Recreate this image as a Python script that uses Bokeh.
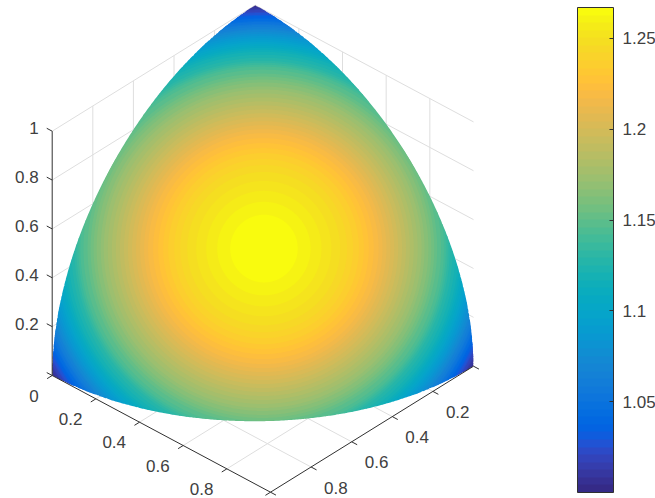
import numpy as np
from bokeh.core.properties import value
from bokeh.embed import file_html
from bokeh.models import ColorBar, ColumnDataSource, FixedTicker, LinearColorMapper, Range1d
from bokeh.plotting import figure
from bokeh.resources import INLINE

# Colour value of each band, and how far (on the unit sphere, seen along the
# view axis) the band reaches from the octant's centre.
band_value = [1.002, 1.006, 1.010, 1.015, 1.019, 1.023, 1.027, 1.031, 1.035, 1.040,
              1.044, 1.048, 1.052, 1.056, 1.060, 1.065, 1.069, 1.073, 1.077, 1.081,
              1.085, 1.090, 1.094, 1.098, 1.102, 1.106, 1.110, 1.115, 1.119, 1.123,
              1.127, 1.131, 1.135, 1.140, 1.144, 1.148, 1.152, 1.156, 1.160, 1.165,
              1.169, 1.173, 1.177, 1.181, 1.185, 1.190, 1.194, 1.198, 1.202, 1.206,
              1.210, 1.215, 1.219, 1.223, 1.227, 1.231, 1.235, 1.240, 1.244, 1.248,
              1.252, 1.256, 1.260, 1.265]
band_reach_px = [300, 244, 243, 241, 240, 238, 237, 235, 234, 232,
                 231, 229, 228, 226, 225, 223, 221, 220, 218, 216,
                 214, 212, 210, 208, 206, 204, 202, 200, 198, 195,
                 192, 189, 187, 185, 183, 180, 176, 173, 170, 167,
                 163, 160, 156, 152, 148, 144, 140, 136, 132, 128,
                 124, 120, 116, 111, 106, 101, 96, 90, 84, 77,
                 68, 58, 47, 34]

ab_ticks = [0, 0.2, 0.4, 0.6, 0.8, 1]
z_ticks = [0, 0.2, 0.4, 0.6, 0.8, 1]
a_labels = ["0", "0.2", "0.4", "0.6", "0.8"]
b_labels = ["0.2", "0.4", "0.6", "0.8"]
z_labels = ["0.2", "0.4", "0.6", "0.8", "1"]
cbar_ticks = [1.05, 1.1, 1.15, 1.2, 1.25]
clim = (1.0, 1.267)

parula = """0.2081 0.1663 0.5292;0.2116 0.1898 0.5777;0.2123 0.2138 0.6270;0.2081 0.2386 0.6771;
0.1959 0.2645 0.7279;0.1707 0.2919 0.7792;0.1253 0.3242 0.8303;0.0591 0.3598 0.8683;
0.0117 0.3875 0.8820;0.0060 0.4086 0.8828;0.0165 0.4266 0.8786;0.0329 0.4430 0.8720;
0.0498 0.4586 0.8641;0.0629 0.4737 0.8554;0.0723 0.4887 0.8467;0.0779 0.5040 0.8384;
0.0793 0.5200 0.8312;0.0749 0.5375 0.8263;0.0641 0.5570 0.8240;0.0488 0.5772 0.8228;
0.0343 0.5966 0.8199;0.0265 0.6137 0.8135;0.0239 0.6287 0.8038;0.0231 0.6418 0.7913;
0.0228 0.6535 0.7768;0.0267 0.6642 0.7607;0.0384 0.6743 0.7436;0.0590 0.6838 0.7254;
0.0843 0.6928 0.7062;0.1133 0.7015 0.6859;0.1453 0.7098 0.6646;0.1801 0.7177 0.6424;
0.2178 0.7250 0.6193;0.2586 0.7317 0.5954;0.3022 0.7376 0.5712;0.3482 0.7424 0.5473;
0.3953 0.7459 0.5244;0.4420 0.7481 0.5033;0.4871 0.7491 0.4840;0.5300 0.7491 0.4661;
0.5709 0.7485 0.4494;0.6099 0.7473 0.4337;0.6473 0.7456 0.4188;0.6834 0.7435 0.4044;
0.7184 0.7411 0.3905;0.7525 0.7384 0.3768;0.7858 0.7356 0.3633;0.8185 0.7327 0.3498;
0.8507 0.7299 0.3360;0.8824 0.7274 0.3217;0.9139 0.7258 0.3063;0.9450 0.7261 0.2886;
0.9739 0.7314 0.2666;0.9938 0.7455 0.2403;0.9990 0.7653 0.2164;0.9955 0.7861 0.1967;
0.9880 0.8066 0.1794;0.9789 0.8271 0.1633;0.9697 0.8481 0.1475;0.9626 0.8705 0.1309;
0.9589 0.8949 0.1132;0.9598 0.9218 0.0948;0.9661 0.9514 0.0755;0.9763 0.9831 0.0538"""
palette = ["#%02x%02x%02x" % tuple(int(round(float(c) * 255)) for c in row.split())
           for row in parula.replace("\n", "").split(";")]

W, H = 655, 498
ORIGIN = np.array([254.7, 249.0])
E_A = np.array([218.3, 116.7])
E_B = np.array([-203.0, 126.0])
E_Z = np.array([0.0, -244.3])
SPHERE_SCALE = 300.0
EDGE_INSET = 0.006  # hidden bands stop just short of the rim, so their colour cannot fringe it
TEXT = "#404040"
AXIS = "#303030"
GRID = "#dedede"
FONT = "Liberation Sans"
FS = "17px"


def project(a, b, z):
    a, b, z = np.asarray(a, float), np.asarray(b, float), np.asarray(z, float)
    return (ORIGIN[0] + a * E_A[0] + b * E_B[0] + z * E_Z[0],
            ORIGIN[1] + a * E_A[1] + b * E_B[1] + z * E_Z[1])


def reach_angle(reach_px):
    return np.arcsin(reach_px / SPHERE_SCALE) if reach_px < SPHERE_SCALE else np.pi / 2


def band_outline(reach_px, next_reach_px):
    """Cap round the octant's centre, cut to the octant (which is star-shaped from it)."""
    d = np.ones(3) / np.sqrt(3)
    u = np.array([-1, -1, 2]) / np.sqrt(6)
    v = np.cross(d, u)
    phi = np.radians(np.arange(0, 360, 0.5))
    w = np.outer(np.cos(phi), u) + np.outer(np.sin(phi), v)
    with np.errstate(divide="ignore", invalid="ignore"):
        t = np.where(w < -1e-12, -d / w, np.inf)
    edge = np.arctan(t.min(axis=1))
    # Where the next band also reaches the rim, this one is hidden there.
    limit = np.where(reach_angle(next_reach_px) >= edge, edge - EDGE_INSET, edge)
    alpha = np.minimum(reach_angle(reach_px), limit)
    pts = np.outer(np.cos(alpha), d) + (np.sin(alpha)[:, None]) * w
    return project(np.clip(pts[:, 0], 0, 1), np.clip(pts[:, 1], 0, 1), np.clip(pts[:, 2], 0, 1))


p = figure(width=W, height=H, output_backend="svg", toolbar_location=None,
           x_range=Range1d(0, W), y_range=Range1d(H, 0),
           x_axis_location=None, y_axis_location=None,
           min_border=0, outline_line_color=None)
p.grid.visible = False

# Grid on the floor and the two back walls
gx0, gy0, gx1, gy1 = [], [], [], []


def add_seg(s, e):
    x0, y0 = project(*s)
    x1, y1 = project(*e)
    gx0.append(float(x0)); gy0.append(float(y0)); gx1.append(float(x1)); gy1.append(float(y1))


for t in ab_ticks[:-1]:
    add_seg((t, 0, 0), (t, 1, 0))
    add_seg((0, t, 0), (1, t, 0))
    add_seg((t, 0, 0), (t, 0, 1))
    add_seg((0, t, 0), (0, t, 1))
for t in z_ticks:
    add_seg((0, 0, t), (1, 0, t))
    add_seg((0, 0, t), (0, 1, t))
p.segment(gx0, gy0, gx1, gy1, line_color=GRID, line_width=1)

# Surface
mapper = LinearColorMapper(palette=palette, low=clim[0], high=clim[1])
xs, ys = [], []
for reach, next_reach in zip(band_reach_px, band_reach_px[1:] + [0]):
    bx, by = band_outline(reach, next_reach)
    xs.append(bx.round(2).tolist())
    ys.append(by.round(2).tolist())
src = ColumnDataSource(dict(xs=xs, ys=ys, val=band_value))
p.patches("xs", "ys", source=src, line_color=None,
          fill_color={"field": "val", "transform": mapper})

# Axes
ax0, ay0, ax1, ay1 = [], [], [], []


def add_axis(s, e):
    x0, y0 = project(*s)
    x1, y1 = project(*e)
    ax0.append(float(x0)); ay0.append(float(y0)); ax1.append(float(x1)); ay1.append(float(y1))


add_axis((0, 1, 0), (1, 1, 0))
add_axis((1, 0, 0), (1, 1, 0))
add_axis((0, 1, 0), (0, 1, 1))
TICK = 0.025
for t in ab_ticks:
    add_axis((t, 1, 0), (t, 1 + TICK, 0))
    add_axis((1, t, 0), (1 + TICK, t, 0))
for t in z_ticks:
    add_axis((0, 1, t), (-TICK, 1, t))
p.segment(ax0, ay0, ax1, ay1, line_color=AXIS, line_width=1)

# Tick labels
a_vals = ab_ticks[:len(a_labels)]
lx, ly = project(a_vals, np.ones(len(a_vals)), np.zeros(len(a_vals)))
p.text(lx, ly, text=a_labels, x_offset=-13.5, y_offset=20, text_align="right", text_baseline="middle",
       text_font=value(FONT), text_font_size=FS, text_color=TEXT)
b_vals = ab_ticks[1:1 + len(b_labels)]
lx, ly = project(np.ones(len(b_vals)), b_vals, np.zeros(len(b_vals)))
p.text(lx, ly, text=b_labels, x_offset=13, y_offset=20.5, text_align="left", text_baseline="middle",
       text_font=value(FONT), text_font_size=FS, text_color=TEXT)
z_vals = z_ticks[1:]
lx, ly = project(np.zeros(len(z_vals)), np.ones(len(z_vals)), z_vals)
p.text(lx, ly, text=z_labels, x_offset=-13.5, y_offset=-3, text_align="right", text_baseline="middle",
       text_font=value(FONT), text_font_size=FS, text_color=TEXT)

# Colour bar
cb = ColorBar(color_mapper=mapper, ticker=FixedTicker(ticks=cbar_ticks),
              location=(577, 6), width=36, height=485, padding=0, margin=0,
              border_line_color=None, background_fill_color=None,
              bar_line_color=AXIS, bar_line_width=1,
              major_tick_in=4, major_tick_out=0, major_tick_line_color=AXIS, minor_tick_line_color=None,
              label_standoff=9, major_label_text_font=FONT, major_label_text_font_size=FS,
              major_label_text_color=TEXT)
p.add_layout(cb, "center")

open("out.html", "w").write(file_html(p, INLINE))
